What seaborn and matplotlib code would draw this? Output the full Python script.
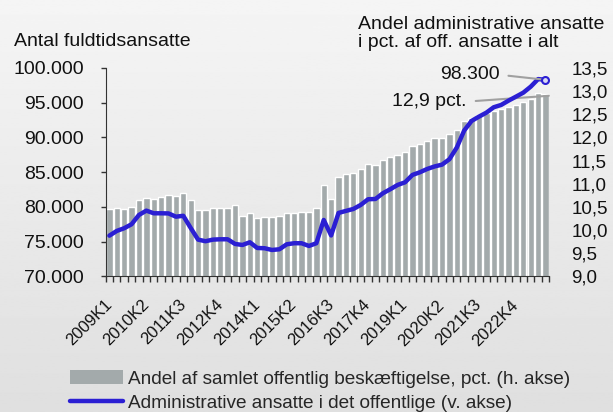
import numpy as np
import pandas as pd
import matplotlib
matplotlib.use("Agg")
import matplotlib.pyplot as plt
from matplotlib.patches import Patch
from matplotlib.lines import Line2D
from matplotlib.ticker import FuncFormatter
import seaborn as sns

sns.set_style("ticks")
plt.rcParams['font.family'] = ['Liberation Sans', 'DejaVu Sans']

# Data
kvartaler = [f"{aar}K{k}" for aar in range(2009, 2024) for k in range(1, 5)]
andel_pct = [10.45, 10.47, 10.45, 10.49, 10.65, 10.69, 10.67, 10.72, 10.75, 10.74,
             10.81, 10.65, 10.43, 10.43, 10.47, 10.47, 10.47, 10.54, 10.31, 10.36,
             10.26, 10.29, 10.28, 10.31, 10.37, 10.38, 10.40, 10.39, 10.47, 10.97,
             10.67, 11.14, 11.22, 11.24, 11.32, 11.42, 11.41, 11.52, 11.58, 11.63,
             11.68, 11.81, 11.85, 11.92, 11.99, 11.99, 12.07, 12.17, 12.35, 12.41,
             12.49, 12.53, 12.58, 12.62, 12.66, 12.71, 12.76, 12.83, 12.95, 12.93]
adm_ansatte = [75870, 76550, 76940, 77510, 78850, 79470, 79090, 79090, 79070, 78600,
               78730, 76980, 75300, 75070, 75300, 75350, 75350, 74680, 74530, 74920,
               74100, 74060, 73810, 73910, 74630, 74780, 74780, 74390, 74780, 78130,
               75900, 79140, 79430, 79710, 80290, 81110, 81150, 81970, 82550, 83170,
               83550, 84610, 84990, 85470, 85830, 86090, 86870, 88550, 91000, 92380,
               93000, 93570, 94350, 94680, 95300, 95870, 96450, 97310, 98400, 98300]
venstre_ticks = [70000, 75000, 80000, 85000, 90000, 95000, 100000]
hoejre_ticks = [9.0, 9.5, 10.0, 10.5, 11.0, 11.5, 12.0, 12.5, 13.0, 13.5]
label_andel = "Andel af samlet offentlig beskæftigelse, pct. (h. akse)"
label_adm = "Administrative ansatte i det offentlige (v. akse)"

df = pd.DataFrame({"kvartal": kvartaler, "andel": andel_pct, "ansatte": adm_ansatte})

bar_color = "#a3aaab"
line_color = "#2b1fd3"
dark = "#333333"

fig = plt.figure(figsize=(6.13, 4.12), dpi=100)

# background gradient
bg = fig.add_axes([0, 0, 1, 1], zorder=-10)
bg.imshow(np.linspace(0.96, 0.875, 256).reshape(-1, 1), cmap="gray", vmin=0, vmax=1,
          aspect="auto", extent=[0, 1, 0, 1])
bg.axis("off")

ax = fig.add_axes([0.1724, 0.329, 0.7235, 0.506])
ax2 = ax.twinx()

sns.barplot(data=df, x="kvartal", y="andel", ax=ax2, color=bar_color,
            saturation=1, width=0.86)
sns.lineplot(data=df, x="kvartal", y="ansatte", ax=ax, color=line_color,
             linewidth=3.2, solid_joinstyle="round")
ax.plot(len(kvartaler) - 1, adm_ansatte[-1], marker="o", ms=5, mfc="#d9d9f2",
        mec=line_color, mew=1.5, zorder=5)

ax.set_zorder(ax2.get_zorder() + 1)
ax.patch.set_visible(False)
ax2.patch.set_visible(False)

ax.set_ylim(70000, 100000)
ax2.set_ylim(9.0, 13.5)
ax.set_xlim(-0.5, len(kvartaler) - 0.5)

ax.set_yticks(venstre_ticks)
ax.yaxis.set_major_formatter(FuncFormatter(lambda v, p: f"{int(v):,}".replace(",", ".")))
ax2.set_yticks(hoejre_ticks)
ax2.yaxis.set_major_formatter(FuncFormatter(lambda v, p: f"{v:.1f}".replace(".", ",")))

# tick marks at every bar boundary, labels every fifth quarter
ax.set_xticks([])
ax.set_xticks(np.arange(-0.5, len(kvartaler), 1), minor=True)
ax.tick_params(axis="x", which="minor", length=4.3, width=1, color=dark)
ax.tick_params(axis="y", length=3.6, width=1, color=dark, pad=12, labelsize=14,
               labelcolor="#111111")
ax2.tick_params(axis="y", length=0, pad=16, labelsize=13.5, labelcolor="#111111")
for i in range(0, len(kvartaler), 5):
    ax.text(i, -0.125, kvartaler[i], transform=ax.get_xaxis_transform(),
            rotation=45, rotation_mode="anchor", ha="right", va="center",
            fontsize=12, color="#111111")

for a in (ax, ax2):
    a.set_xlabel("")
    a.set_ylabel("")
    for s in ("top", "right"):
        a.spines[s].set_visible(False)
ax2.spines["left"].set_visible(False)
ax2.spines["bottom"].set_visible(False)
ax.spines["left"].set_color(dark)
ax.spines["bottom"].set_color(dark)

# titles
fig.text(13.7 / 613, 1 - 41.7 / 412, "Antal fuldtidsansatte", fontsize=14,
         ha="left", va="center", color="#111111")
fig.text(357.7 / 613, 1 - 33.5 / 412, "Andel administrative ansatte\ni pct. af off. ansatte i alt",
         fontsize=14, ha="left", va="center", linespacing=1.05, color="#111111")

# annotations
ax.annotate(f"{adm_ansatte[-1]:,}".replace(",", "."), xy=(len(kvartaler) - 1, adm_ansatte[-1]),
            xytext=(-33, 3.6), textcoords="offset points", ha="right", va="center",
            fontsize=14, color="#111111",
            arrowprops=dict(arrowstyle="-", color="#a0a0a0", lw=1.5, relpos=(1, 0.5),
                            shrinkA=4, shrinkB=3))
ax2.annotate("12,9 pct.", xy=(len(kvartaler) - 0.55, 12.9),
             xytext=(-59, -4.2), textcoords="offset points", ha="right", va="center",
             fontsize=14, color="#111111",
             arrowprops=dict(arrowstyle="-", color="#a0a0a0", lw=1.5, relpos=(1, 0.5),
                             shrinkA=4, shrinkB=0))

handles = [Patch(facecolor=bar_color, edgecolor="none"),
           Line2D([0], [0], color=line_color, lw=3.2)]
fig.legend(handles, [label_andel, label_adm], loc="center",
           bbox_to_anchor=(0.522, 1 - 391 / 412), frameon=False, fontsize=13.7,
           handlelength=2.8, handleheight=0.8, handletextpad=0.25, labelspacing=0.35)

fig.savefig("out.png", dpi=100)
